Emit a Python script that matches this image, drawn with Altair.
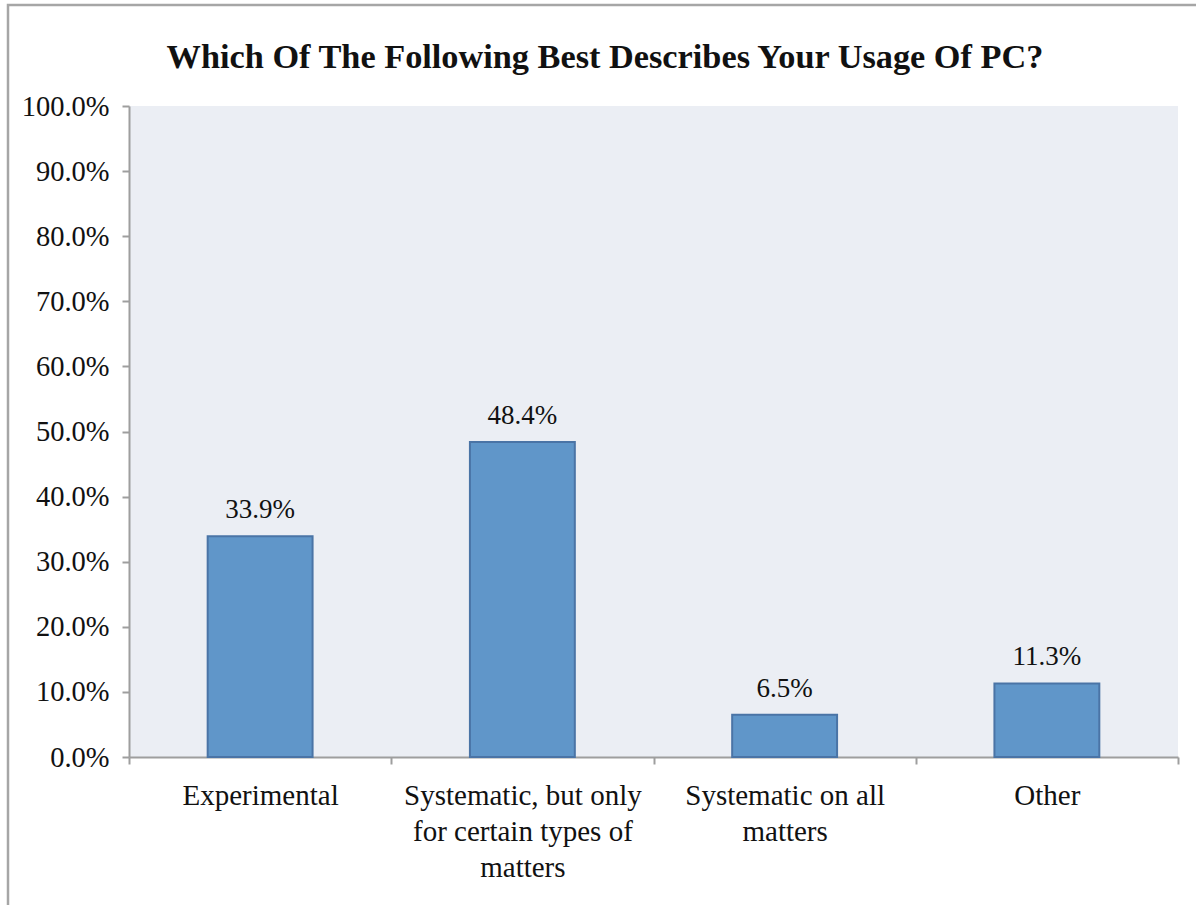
import altair as alt
import pandas as pd

# Survey answers and their shares
categories = [
    "Experimental",
    "Systematic, but only\nfor certain types of\nmatters",
    "Systematic on all\nmatters",
    "Other",
]
shares = [0.339, 0.484, 0.065, 0.113]
y_ticks = [0.0, 0.1, 0.2, 0.3, 0.4, 0.5, 0.6, 0.7, 0.8, 0.9, 1.0]
title_text = "Which Of The Following Best Describes Your Usage Of PC?"

df = pd.DataFrame({"answer": categories, "share": shares})

FONT = "'Liberation Serif', 'Times New Roman', Tinos, 'DejaVu Serif', serif"
AXIS_GREY = "#9e9e9e"
TEXT = "#111111"

x_enc = alt.X(
    "answer:N",
    sort=categories,
    scale=alt.Scale(paddingInner=0, paddingOuter=0),
    axis=alt.Axis(
        title=None,
        labelAngle=0,
        labelExpr="split(datum.label, '\\n')",
        labelLineHeight=36,
        labelPadding=17,
        labelFontSize=29,
        labelFont=FONT,
        labelColor=TEXT,
        labelLimit=0,
        tickBand="extent",
        tickSize=7,
        tickColor=AXIS_GREY,
        tickWidth=2,
        domainColor=AXIS_GREY,
        domainWidth=2,
        labelBaseline="top",
    ),
)
y_enc = alt.Y(
    "share:Q",
    scale=alt.Scale(domain=[0, 1], nice=False),
    axis=alt.Axis(
        title=None,
        values=y_ticks,
        format=".1%",
        grid=False,
        labelFontSize=28.5,
        labelFont=FONT,
        labelColor=TEXT,
        labelPadding=13,
        tickSize=7,
        tickColor=AXIS_GREY,
        tickWidth=2,
        domainColor=AXIS_GREY,
        domainWidth=2,
    ),
)

bars = alt.Chart(df).mark_bar(
    width=alt.RelativeBandSize(0.4),
    color="#6096c9",
    stroke="#4a74a6",
    strokeWidth=2,
).encode(x=x_enc, y=y_enc)

values = alt.Chart(df).mark_text(
    font=FONT, fontSize=27, color=TEXT, baseline="alphabetic", dy=-18
).encode(
    x=alt.X("answer:N", sort=categories),
    y="share:Q",
    text=alt.Text("share:Q", format=".1%"),
)

single = pd.DataFrame({"title": [title_text]})

# outer frame around the whole figure
frame = alt.Chart(single).mark_rect(
    fillOpacity=0, stroke="#a6a6a6", strokeWidth=2.5
).encode(
    x=alt.value(-121), x2=alt.value(1200),
    y=alt.value(-101), y2=alt.value(1000),
)

# figure heading, centred on the frame rather than on the plot area
heading = alt.Chart(single).mark_text(
    font=FONT, fontSize=34.3, fontWeight="bold", color=TEXT,
    align="center", baseline="alphabetic",
).encode(
    x=alt.value(476), y=alt.value(-38), text="title:N",
)

chart = alt.layer(frame, bars, values, heading).properties(
    width=1049,
    height=651,
    background="white",
    autosize=alt.AutoSizeParams(type="none"),
    padding={"left": 129, "top": 106, "right": 18, "bottom": 148},
).configure_view(fill="#ebeef4", stroke=None)

chart.save("out.html", embed_options={"renderer": "svg", "actions": False})
